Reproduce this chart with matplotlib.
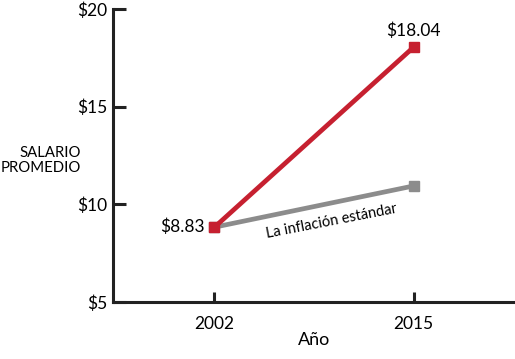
import matplotlib
matplotlib.use("Agg")
import matplotlib.pyplot as plt

# Datos
anios = ["2002", "2015"]
salario = [8.83, 18.04]
inflacion = [8.83, 10.94]
ticks_y = [5, 10, 15, 20]

plt.rcParams['font.family'] = ['Lato', 'DejaVu Sans']

ROJO = "#c62030"
GRIS = "#8c8c8c"

fig = plt.figure(figsize=(5.15, 3.59), dpi=100)
ax = fig.add_axes([0.2194, 0.1588, 0.7806, 0.8162])

x = list(range(len(anios)))

ax.plot(x, inflacion, color=GRIS, linewidth=3.4, marker='s', markersize=7,
        solid_capstyle='butt', zorder=2)
ax.plot(x, salario, color=ROJO, linewidth=3.4, marker='s', markersize=7,
        solid_capstyle='butt', zorder=3)

# Etiquetas de valores
ax.annotate(f"${salario[0]:.2f}", (x[0], salario[0]), xytext=(-7, 0),
            textcoords='offset points', ha='right', va='center', fontsize=12.5)
ax.annotate(f"${salario[1]:.2f}", (x[1], salario[1]), xytext=(0, 6),
            textcoords='offset points', ha='center', va='bottom', fontsize=12.5)

# Texto a lo largo de la línea gris
xm = (x[0] + x[1]) / 2 + 0.08
ym = inflacion[0] + (inflacion[1] - inflacion[0]) * (xm - x[0])
ax.annotate("La inflación estándar", (xm, ym), xytext=(0, -8),
            textcoords='offset points', ha='center', va='top', fontsize=10.5,
            rotation=11, rotation_mode='anchor')

ax.set_xlim(-0.51, 1.51)
ax.set_ylim(5, 20)
ax.set_xticks(x)
ax.set_xticklabels(anios)
ax.set_yticks(ticks_y)
ax.set_yticklabels([f"${v}" for v in ticks_y])

for s in ['top', 'right']:
    ax.spines[s].set_visible(False)
for s in ['left', 'bottom']:
    ax.spines[s].set_linewidth(2.2)
    ax.spines[s].set_color('#222222')

ax.tick_params(axis='y', direction='in', length=9, width=2.2, pad=4,
               labelsize=12.5, color='#222222')
ax.tick_params(axis='x', direction='in', length=7, width=2.2, pad=10,
               labelsize=12.5, color='#222222')

ax.set_xlabel("Año", fontsize=13, labelpad=0)
fig.text(0.158, 0.553, "SALARIO\nPROMEDIO", ha='right', va='center',
         fontsize=10.7, linespacing=1.15)

fig.savefig("out.png", dpi=100)
